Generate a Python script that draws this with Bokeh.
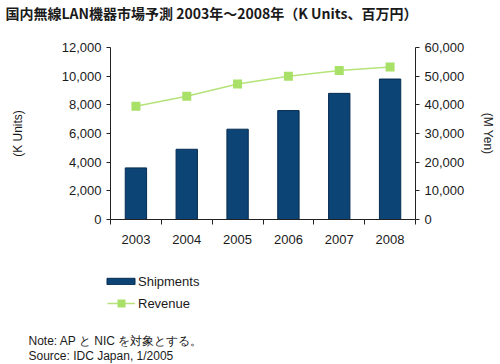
from bokeh.plotting import figure
from bokeh.models import (Range1d, LinearAxis, FixedTicker, NumeralTickFormatter,
                          Legend, LegendItem, Label, ColumnDataSource)
from bokeh.embed import file_html
from bokeh.resources import INLINE

years = ["2003", "2004", "2005", "2006", "2007", "2008"]
shipments = [3600, 4900, 6300, 7600, 8800, 9800]          # K Units
revenue = [39500, 43000, 47300, 50000, 52000, 53200]      # M Yen
ship_max, rev_max = 12000, 60000
ship_step, rev_step = 2000, 10000

title_text = "国内無線LAN機器市場予測 2003年～2008年（K Units、百万円）"
note_lines = ["Note: AP と NIC を対象とする。", "Source: IDC Japan, 1/2005"]
series_names = ["Shipments", "Revenue"]

FONT = "Liberation Sans"
TXT = "#1a1a1a"
BAR = "#0b4475"
BAR_EDGE = "#062c50"
LINE = "#b5e37a"
MARK = "#a9e067"
AXIS = "#222222"

# page / plot-area geometry in pixels
W, H = 500, 364
PL, PR, PT, PB = 110, 415, 47, 219

n = len(years)
xpos = [i + 0.5 for i in range(n)]
src = ColumnDataSource(dict(x=xpos, ship=shipments, rev=revenue))

# ranges chosen so that the data area lands on the plot area while the
# frame covers the whole canvas (so texts below / left stay visible)
kx = (PR - PL) / n
ky = (PB - PT) / ship_max
x_range = Range1d(-PL / kx, n + (W - PR) / kx)
y_range = Range1d(-(H - PB) / ky, ship_max + PT / ky)
ratio = rev_max / ship_max
rev_range = Range1d(y_range.start * ratio, y_range.end * ratio)

p = figure(width=W, height=H, output_backend="svg", toolbar_location=None,
           x_range=x_range, y_range=y_range, min_border=0,
           x_axis_type=None, y_axis_type=None)
p.outline_line_color = None
p.grid.visible = False
p.extra_y_ranges = {"rev": rev_range}

bars = p.vbar(x="x", top="ship", width=0.42, source=src, fill_color=BAR,
              line_color=BAR_EDGE, line_width=1)
line = p.line(x="x", y="rev", source=src, y_range_name="rev", line_color=LINE, line_width=1.5)
marks = p.scatter(x="x", y="rev", source=src, y_range_name="rev", marker="square",
                  size=9, fill_color=MARK, line_color=None)

xa = LinearAxis(fixed_location=0, bounds=(0, n),
                ticker=FixedTicker(ticks=xpos, minor_ticks=list(range(n + 1))))
xa.major_label_overrides = {x: y for x, y in zip(xpos, years)}
xa.major_tick_line_color = None
xa.major_tick_out = 0
xa.major_tick_in = 0
xa.minor_tick_out = 5
xa.minor_tick_in = 0
xa.minor_tick_line_color = AXIS
xa.major_label_standoff = 10
p.add_layout(xa, "below")

ya = LinearAxis(fixed_location=0, bounds=(0, ship_max), axis_label="(K Units)",
                ticker=FixedTicker(ticks=list(range(0, ship_max + 1, ship_step))),
                formatter=NumeralTickFormatter(format="0,0"))
ya.axis_label_standoff = 34
ya.major_label_standoff = 5
p.add_layout(ya, "left")

yr = LinearAxis(fixed_location=n, bounds=(0, rev_max), y_range_name="rev",
                axis_label="(M Yen)",
                ticker=FixedTicker(ticks=list(range(0, rev_max + 1, rev_step))),
                formatter=NumeralTickFormatter(format="0,0"))
yr.axis_label_standoff = 14
yr.major_label_standoff = 5
p.add_layout(yr, "right")

for ax in [xa, ya, yr]:
    ax.axis_line_color = AXIS
    ax.major_label_text_font = FONT
    ax.major_label_text_font_size = "13px"
    ax.major_label_text_color = TXT
    ax.axis_label_text_font = FONT
    ax.axis_label_text_font_size = "12px"
    ax.axis_label_text_font_style = "normal"
    ax.axis_label_text_color = TXT
for ax in [ya, yr]:
    ax.minor_tick_line_color = None
    ax.major_tick_out = 4
    ax.major_tick_in = 0
    ax.major_tick_line_color = AXIS

# title
p.add_layout(Label(x=5, y=H - 12, x_units="screen", y_units="screen",
                   text=title_text, text_font="Noto Sans CJK JP",
                   text_font_style="bold", text_font_size="14px",
                   text_color=TXT, text_baseline="middle"))

# legends
common = dict(padding=0, margin=0, spacing=0, border_line_color=None,
              background_fill_alpha=0, label_text_font=FONT,
              label_text_font_size="13px", label_text_color=TXT, label_height=16)
leg1 = Legend(items=[LegendItem(label=series_names[0], renderers=[bars])],
              location=(103, 75), glyph_width=35, glyph_height=8,
              label_standoff=0, **common)
leg2 = Legend(items=[LegendItem(label=series_names[1], renderers=[line, marks])],
              location=(107, 51), glyph_width=28, glyph_height=20,
              label_standoff=3, **common)
p.add_layout(leg1, "center")
p.add_layout(leg2, "center")

# notes
for i, txt in enumerate(note_lines):
    p.add_layout(Label(x=28, y=24 - i * 15, x_units="screen", y_units="screen",
                       text=txt, text_font=FONT, text_font_size="12px",
                       text_color=TXT, text_baseline="alphabetic"))

open("out.html", "w").write(file_html(p, INLINE))
